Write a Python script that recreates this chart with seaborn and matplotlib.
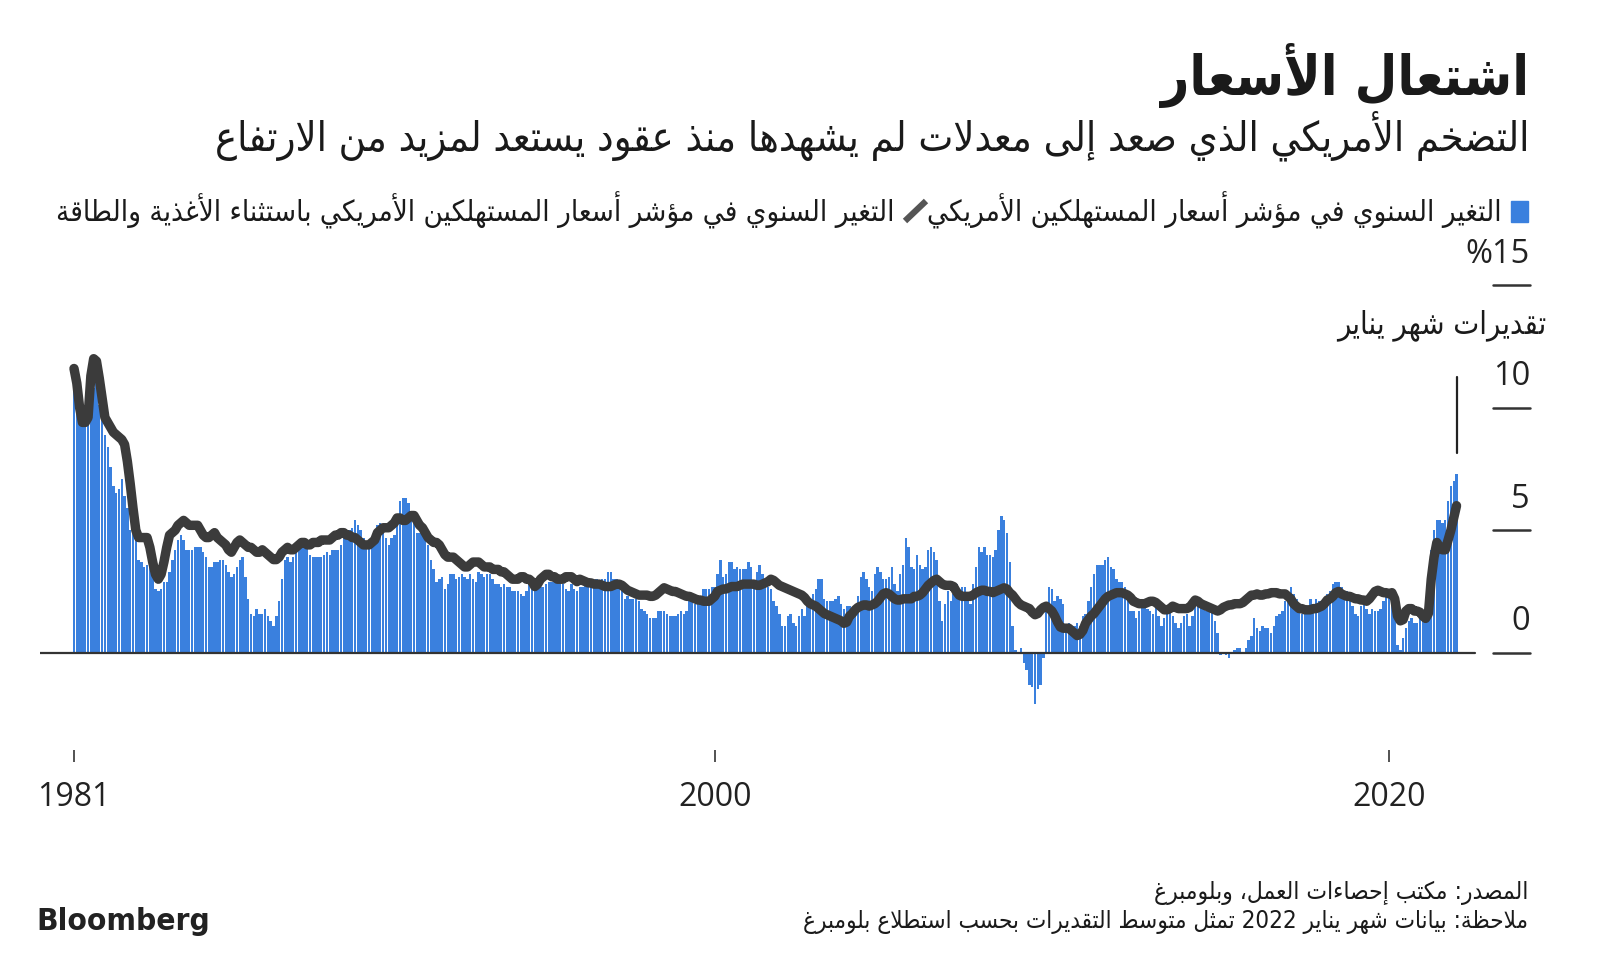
import re
import numpy as np
import pandas as pd
import matplotlib
matplotlib.use("Agg")
import matplotlib.pyplot as plt
import matplotlib.transforms as mtransforms
from matplotlib.font_manager import FontProperties, fontManager
from matplotlib.lines import Line2D
from matplotlib.patches import Rectangle
import seaborn as sns

# ------------------------------------------------------------------ data
start_year = 1981  # first month: January 1981, last: January 2022 (estimate)

# US CPI, year-over-year change (%), monthly
cpi_yoy = [
    11.8, 11.4, 10.5, 10.0, 9.8, 9.6, 10.8, 10.8, 11.0, 10.1, 9.6, 8.9,   # 1981
    8.4, 7.6, 6.8, 6.5, 6.7, 7.1, 6.4, 5.9, 5.0, 5.1, 4.6, 3.8,           # 1982
    3.7, 3.5, 3.6, 3.9, 3.5, 2.6, 2.5, 2.6, 2.9, 2.9, 3.3, 3.8,           # 1983
    4.2, 4.6, 4.8, 4.6, 4.2, 4.2, 4.2, 4.3, 4.3, 4.3, 4.1, 3.9,           # 1984
    3.5, 3.5, 3.7, 3.7, 3.8, 3.8, 3.6, 3.3, 3.1, 3.2, 3.5, 3.8,           # 1985
    3.9, 3.1, 2.2, 1.6, 1.5, 1.8, 1.6, 1.6, 1.8, 1.5, 1.3, 1.1,           # 1986
    1.5, 2.1, 3.0, 3.8, 3.9, 3.7, 3.9, 4.3, 4.4, 4.5, 4.5, 4.4,           # 1987
    4.0, 3.9, 3.9, 3.9, 3.9, 4.0, 4.1, 4.0, 4.2, 4.2, 4.2, 4.4,           # 1988
    4.7, 4.8, 5.0, 5.1, 5.4, 5.2, 5.0, 4.7, 4.3, 4.5, 4.7, 4.6,           # 1989
    5.2, 5.3, 5.2, 4.7, 4.4, 4.7, 4.8, 5.6, 6.2, 6.3, 6.3, 6.1,           # 1990
    5.7, 5.3, 4.9, 4.9, 5.0, 4.7, 4.4, 3.8, 3.4, 2.9, 3.0, 3.1,           # 1991
    2.6, 2.8, 3.2, 3.2, 3.0, 3.1, 3.2, 3.1, 3.0, 3.2, 3.0, 2.9,           # 1992
    3.3, 3.2, 3.1, 3.2, 3.2, 3.0, 2.8, 2.8, 2.7, 2.8, 2.7, 2.7,           # 1993
    2.5, 2.5, 2.5, 2.4, 2.3, 2.5, 2.8, 2.9, 3.0, 2.6, 2.7, 2.7,           # 1994
    2.8, 2.9, 2.9, 3.1, 3.2, 3.0, 2.8, 2.6, 2.5, 2.8, 2.6, 2.5,           # 1995
    2.7, 2.7, 2.8, 2.9, 2.9, 2.8, 3.0, 2.9, 3.0, 3.0, 3.3, 3.3,           # 1996
    3.0, 3.0, 2.8, 2.5, 2.2, 2.3, 2.2, 2.2, 2.2, 2.1, 1.8, 1.7,           # 1997
    1.6, 1.4, 1.4, 1.4, 1.7, 1.7, 1.7, 1.6, 1.5, 1.5, 1.5, 1.6,           # 1998
    1.7, 1.6, 1.7, 2.3, 2.1, 2.0, 2.1, 2.3, 2.6, 2.6, 2.6, 2.7,           # 1999
    2.7, 3.2, 3.8, 3.1, 3.2, 3.7, 3.7, 3.4, 3.5, 3.4, 3.4, 3.4,           # 2000
    3.7, 3.5, 2.9, 3.3, 3.6, 3.2, 2.7, 2.7, 2.6, 2.1, 1.9, 1.6,           # 2001
    1.1, 1.1, 1.5, 1.6, 1.2, 1.1, 1.5, 1.8, 1.5, 2.0, 2.2, 2.4,           # 2002
    2.6, 3.0, 3.0, 2.2, 2.1, 2.1, 2.1, 2.2, 2.3, 2.0, 1.8, 1.9,           # 2003
    1.9, 1.7, 1.7, 2.3, 3.1, 3.3, 3.0, 2.7, 2.5, 3.2, 3.5, 3.3,           # 2004
    3.0, 3.0, 3.1, 3.5, 2.8, 2.5, 3.2, 3.6, 4.7, 4.3, 3.5, 3.4,           # 2005
    4.0, 3.6, 3.4, 3.5, 4.2, 4.3, 4.1, 3.8, 2.1, 1.3, 2.0, 2.5,           # 2006
    2.1, 2.4, 2.8, 2.6, 2.7, 2.7, 2.4, 2.0, 2.8, 3.5, 4.3, 4.1,           # 2007
    4.3, 4.0, 4.0, 3.9, 4.2, 5.0, 5.6, 5.4, 4.9, 3.7, 1.1, 0.1,           # 2008
    0.0, 0.2, -0.4, -0.7, -1.3, -1.4, -2.1, -1.5, -1.3, -0.2, 1.8, 2.7,   # 2009
    2.6, 2.1, 2.3, 2.2, 2.0, 1.1, 1.2, 1.1, 1.1, 1.2, 1.1, 1.5,           # 2010
    1.6, 2.1, 2.7, 3.2, 3.6, 3.6, 3.6, 3.8, 3.9, 3.5, 3.4, 3.0,           # 2011
    2.9, 2.9, 2.7, 2.3, 1.7, 1.7, 1.4, 1.7, 2.0, 2.2, 1.8, 1.7,           # 2012
    1.6, 2.0, 1.5, 1.1, 1.4, 1.8, 2.0, 1.5, 1.2, 1.0, 1.2, 1.5,           # 2013
    1.6, 1.1, 1.5, 2.0, 2.1, 2.1, 2.0, 1.7, 1.7, 1.7, 1.3, 0.8,           # 2014
    -0.1, 0.0, -0.1, -0.2, 0.0, 0.1, 0.2, 0.2, 0.0, 0.2, 0.5, 0.7,        # 2015
    1.4, 1.0, 0.9, 1.1, 1.0, 1.0, 0.8, 1.1, 1.5, 1.6, 1.7, 2.1,           # 2016
    2.5, 2.7, 2.4, 2.2, 1.9, 1.6, 1.7, 1.9, 2.2, 2.0, 2.2, 2.1,           # 2017
    2.1, 2.2, 2.4, 2.5, 2.8, 2.9, 2.9, 2.7, 2.3, 2.5, 2.2, 1.9,           # 2018
    1.6, 1.5, 1.9, 2.0, 1.8, 1.6, 1.8, 1.7, 1.7, 1.8, 2.1, 2.3,           # 2019
    2.5, 2.3, 1.5, 0.3, 0.1, 0.6, 1.0, 1.3, 1.4, 1.2, 1.2, 1.4,           # 2020
    1.4, 1.7, 2.6, 4.2, 5.0, 5.4, 5.4, 5.3, 5.4, 6.2, 6.8, 7.0,           # 2021
    7.3,                                                                  # 2022 Jan (est.)
]

# US CPI excluding food and energy, year-over-year change (%), monthly
core_yoy = [
    11.6, 11.0, 10.0, 9.4, 9.4, 9.6, 11.3, 12.0, 11.9, 11.2, 10.4, 9.6,   # 1981
    9.4, 9.2, 9.0, 8.9, 8.8, 8.7, 8.5, 7.8, 6.9, 5.9, 5.0, 4.7,           # 1982
    4.7, 4.7, 4.7, 4.3, 3.7, 3.2, 3.0, 3.2, 3.7, 4.3, 4.8, 4.9,           # 1983
    5.0, 5.2, 5.3, 5.4, 5.3, 5.2, 5.2, 5.2, 5.2, 5.0, 4.8, 4.7,           # 1984
    4.7, 4.8, 4.9, 4.7, 4.6, 4.5, 4.4, 4.2, 4.1, 4.3, 4.5, 4.6,           # 1985
    4.5, 4.4, 4.3, 4.3, 4.2, 4.1, 4.1, 4.2, 4.1, 4.0, 3.9, 3.8,           # 1986
    3.8, 3.9, 4.1, 4.2, 4.3, 4.2, 4.2, 4.3, 4.4, 4.5, 4.5, 4.4,           # 1987
    4.4, 4.5, 4.5, 4.5, 4.6, 4.6, 4.6, 4.6, 4.7, 4.8, 4.8, 4.9,           # 1988
    4.9, 4.8, 4.8, 4.7, 4.7, 4.6, 4.5, 4.4, 4.4, 4.4, 4.5, 4.6,           # 1989
    4.9, 5.0, 5.1, 5.1, 5.1, 5.2, 5.3, 5.5, 5.5, 5.4, 5.4, 5.5,           # 1990
    5.6, 5.6, 5.4, 5.2, 5.1, 4.9, 4.7, 4.6, 4.5, 4.5, 4.4, 4.2,           # 1991
    4.0, 3.9, 3.9, 3.9, 3.8, 3.7, 3.6, 3.5, 3.5, 3.6, 3.7, 3.7,           # 1992
    3.7, 3.6, 3.5, 3.5, 3.5, 3.4, 3.4, 3.4, 3.3, 3.3, 3.2, 3.1,           # 1993
    3.0, 3.0, 3.0, 3.1, 3.1, 3.0, 3.0, 2.9, 2.7, 2.8, 3.0, 3.1,           # 1994
    3.2, 3.2, 3.1, 3.1, 3.0, 3.0, 3.0, 3.1, 3.1, 3.1, 3.0, 2.9,           # 1995
    3.0, 2.95, 2.9, 2.85, 2.85, 2.8, 2.8, 2.8, 2.75, 2.7, 2.7, 2.7,       # 1996
    2.75, 2.8, 2.8, 2.75, 2.65, 2.55, 2.5, 2.45, 2.4, 2.35, 2.35, 2.35,   # 1997
    2.35, 2.3, 2.3, 2.35, 2.45, 2.55, 2.65, 2.6, 2.55, 2.5, 2.5, 2.45,    # 1998
    2.4, 2.35, 2.3, 2.3, 2.25, 2.2, 2.15, 2.15, 2.1, 2.1, 2.1, 2.2,       # 1999
    2.3, 2.5, 2.55, 2.6, 2.6, 2.65, 2.7, 2.7, 2.7, 2.75, 2.8, 2.8,        # 2000
    2.8, 2.8, 2.8, 2.75, 2.75, 2.8, 2.85, 2.9, 3.0, 2.95, 2.85, 2.75,     # 2001
    2.7, 2.65, 2.6, 2.55, 2.5, 2.45, 2.4, 2.35, 2.25, 2.1, 2.0, 1.95,     # 2002
    1.9, 1.8, 1.7, 1.6, 1.55, 1.5, 1.45, 1.4, 1.35, 1.3, 1.2, 1.25,       # 2003
    1.5, 1.6, 1.75, 1.85, 1.9, 1.95, 1.95, 1.9, 1.95, 2.0, 2.1, 2.25,     # 2004
    2.4, 2.45, 2.4, 2.3, 2.2, 2.15, 2.15, 2.2, 2.2, 2.2, 2.2, 2.3,        # 2005
    2.3, 2.35, 2.45, 2.6, 2.75, 2.85, 2.95, 3.0, 2.9, 2.8, 2.75, 2.75,    # 2006
    2.75, 2.7, 2.5, 2.35, 2.3, 2.3, 2.3, 2.3, 2.35, 2.45, 2.5, 2.55,      # 2007
    2.55, 2.5, 2.5, 2.45, 2.5, 2.55, 2.6, 2.65, 2.6, 2.45, 2.35, 2.2,     # 2008
    2.05, 1.95, 1.9, 1.85, 1.8, 1.65, 1.55, 1.6, 1.75, 1.85, 1.9, 1.8,    # 2009
    1.7, 1.5, 1.25, 1.05, 1.0, 1.0, 1.0, 0.9, 0.8, 0.7, 0.75, 0.9,        # 2010
    1.2, 1.35, 1.5, 1.6, 1.75, 1.9, 2.05, 2.2, 2.3, 2.35, 2.4, 2.45,      # 2011
    2.45, 2.45, 2.4, 2.35, 2.25, 2.1, 2.05, 2.0, 2.0, 2.0, 2.05, 2.1,     # 2012
    2.1, 2.05, 1.95, 1.85, 1.75, 1.75, 1.8, 1.9, 1.85, 1.8, 1.8, 1.8,     # 2013
    1.8, 1.85, 2.0, 2.15, 2.1, 2.0, 1.95, 1.9, 1.85, 1.8, 1.75, 1.7,      # 2014
    1.75, 1.85, 1.9, 1.95, 1.95, 2.0, 2.0, 2.0, 2.05, 2.15, 2.25, 2.35,   # 2015
    2.35, 2.4, 2.35, 2.35, 2.4, 2.4, 2.45, 2.45, 2.45, 2.4, 2.4, 2.4,     # 2016
    2.3, 2.2, 2.0, 1.9, 1.8, 1.8, 1.75, 1.75, 1.75, 1.8, 1.8, 1.85,       # 2017
    1.9, 2.0, 2.15, 2.2, 2.3, 2.45, 2.5, 2.4, 2.35, 2.3, 2.3, 2.25,       # 2018
    2.2, 2.2, 2.15, 2.15, 2.1, 2.2, 2.35, 2.5, 2.55, 2.5, 2.45, 2.45,     # 2019
    2.4, 2.45, 2.2, 1.5, 1.3, 1.35, 1.7, 1.8, 1.8, 1.7, 1.7, 1.65,        # 2020
    1.5, 1.4, 1.6, 3.0, 3.9, 4.5, 4.3, 4.2, 4.2, 4.6, 5.0, 5.5,           # 2021
    6.0,                                                                  # 2022 Jan (est.)
]

x_tick_years = [1981, 2000, 2020]
x_tick_labels = ["1981", "2000", "2020"]
y_tick_values = [0, 5, 10, 15]
y_tick_labels = ["0", "5", "10", "%15"]

title = "اشتعال الأسعار"
subtitle = "التضخم الأمريكي الذي صعد إلى معدلات لم يشهدها منذ عقود يستعد لمزيد من الارتفاع"
legend_cpi = "التغير السنوي في مؤشر أسعار المستهلكين الأمريكي"
legend_core = "التغير السنوي في مؤشر أسعار المستهلكين الأمريكي باستثناء الأغذية والطاقة"
annotation = "تقديرات شهر يناير"
source_line = "المصدر: مكتب إحصاءات العمل، وبلومبرغ"
note_line = "ملاحظة: بيانات شهر يناير 2022 تمثل متوسط التقديرات بحسب استطلاع بلومبرغ"
brand = "Bloomberg"

assert len(cpi_yoy) == len(core_yoy) == 41 * 12 + 1

# ------------------------------------------------------- Arabic shaping
_FORMS = [("ء", 0xFE80, 1), ("آ", 0xFE81, 2), ("أ", 0xFE83, 2), ("ؤ", 0xFE85, 2),
          ("إ", 0xFE87, 2), ("ئ", 0xFE89, 4), ("ا", 0xFE8D, 2), ("ب", 0xFE8F, 4),
          ("ة", 0xFE93, 2), ("ت", 0xFE95, 4), ("ث", 0xFE99, 4), ("ج", 0xFE9D, 4),
          ("ح", 0xFEA1, 4), ("خ", 0xFEA5, 4), ("د", 0xFEA9, 2), ("ذ", 0xFEAB, 2),
          ("ر", 0xFEAD, 2), ("ز", 0xFEAF, 2), ("س", 0xFEB1, 4), ("ش", 0xFEB5, 4),
          ("ص", 0xFEB9, 4), ("ض", 0xFEBD, 4), ("ط", 0xFEC1, 4), ("ظ", 0xFEC5, 4),
          ("ع", 0xFEC9, 4), ("غ", 0xFECD, 4), ("ف", 0xFED1, 4), ("ق", 0xFED5, 4),
          ("ك", 0xFED9, 4), ("ل", 0xFEDD, 4), ("م", 0xFEE1, 4), ("ن", 0xFEE5, 4),
          ("ه", 0xFEE9, 4), ("و", 0xFEED, 2), ("ى", 0xFEEF, 2), ("ي", 0xFEF1, 4)]
AR = {c: (b, n) for c, b, n in _FORMS}
LAM_ALEF = {"آ": 0xFEF5, "أ": 0xFEF7, "إ": 0xFEF9, "ا": 0xFEFB}


def _dual(ch):
    return ch in AR and AR[ch][1] == 4


def shape(text):
    out, i, n = [], 0, len(text)
    while i < n:
        ch = text[i]
        prev = text[i - 1] if i > 0 else ""
        jp = _dual(prev) and ch in AR
        if ch == "ل" and i + 1 < n and text[i + 1] in LAM_ALEF:
            out.append(chr(LAM_ALEF[text[i + 1]] + (1 if jp else 0)))
            i += 2
            continue
        if ch in AR:
            base, nf = AR[ch]
            nxt = text[i + 1] if i + 1 < n else ""
            jn = nf == 4 and nxt in AR
            if nf == 1:
                code = base
            elif jp and jn:
                code = base + 3
            elif jp:
                code = base + 1
            elif jn:
                code = base + 2
            else:
                code = base
            out.append(chr(code))
        else:
            out.append(ch)
        i += 1
    return "".join(out)


def ar(text):
    s = shape(text)
    runs = re.findall(r"[0-9A-Za-z%]+|[^0-9A-Za-z%]+", s)
    return "".join(r if re.match(r"[0-9A-Za-z%]", r) else r[::-1] for r in reversed(runs))


# ------------------------------------------------------------ styling
sns.set_style("white")
names = {f.name for f in fontManager.ttflist}
has_cond = any(f.name == "DejaVu Sans" and "condensed" in str(f.stretch).lower() for f in fontManager.ttflist)
AR_STRETCH = "condensed" if has_cond else "normal"
NUM_FAMILY = "Open Sans" if "Open Sans" in names else "DejaVu Sans"
plt.rcParams["font.family"] = ["DejaVu Sans"]

W, H = 1600, 957
TXT = "#1a1a1a"
BLUE = "#3a80de"
LINE = "#3b3b3b"

fig = plt.figure(figsize=(W / 100, H / 100), dpi=100)
fig.patch.set_facecolor("white")
renderer = fig.canvas.get_renderer()


def fig_text(x_px, y_px, s, target_w, ha="right", weight="normal", stretch=AR_STRETCH,
             family="DejaVu Sans", color=TXT):
    t = fig.text(x_px / W, 1 - y_px / H, s, ha=ha, va="center", color=color,
                 fontproperties=FontProperties(family=family, weight=weight, stretch=stretch, size=10))
    w = t.get_window_extent(renderer=renderer).width
    t.set_fontsize(10 * target_w / w)
    return t


# plot frame: left 40px, right 1530px, top 270px, bottom 750px
ax_left, ax_right, ax_top, ax_bottom = 40, 1530, 270, 750
ax = fig.add_axes([ax_left / W, 1 - ax_bottom / H, (ax_right - ax_left) / W, (ax_bottom - ax_top) / H])

zero_px, px_per_unit = 652.7, 24.5
first_px, px_per_month = 74, 2.81
ax.set_ylim(-(ax_bottom - zero_px) / px_per_unit, (zero_px - ax_top) / px_per_unit)
xlim = ((ax_left - first_px) / px_per_month, (ax_right - first_px) / px_per_month)

df = pd.DataFrame({
    "month": np.arange(len(cpi_yoy)),
    "cpi": cpi_yoy,
    "core": core_yoy,
})

sns.barplot(data=df, x="month", y="cpi", native_scale=True, color=BLUE, saturation=1,
            width=0.86, errorbar=None, linewidth=0, ax=ax, zorder=2)
sns.lineplot(data=df, x="month", y="core", color=LINE, linewidth=6.8, ax=ax, zorder=4,
             solid_capstyle="round", solid_joinstyle="round")
ax.set_xlim(*xlim)

for s in ax.spines.values():
    s.set_visible(False)
ax.set_xlabel("")
ax.set_ylabel("")
ax.grid(False)

# baseline
ax.axhline(0, xmin=0, xmax=(1475 - ax_left) / (ax_right - ax_left), color="#333333", lw=1.6, zorder=3)

# x ticks
ax.set_xticks([(y - start_year) * 12 for y in x_tick_years])
ax.set_xticklabels(x_tick_labels, fontsize=23, color="#222222", family=NUM_FAMILY)
ax.tick_params(axis="x", which="both", bottom=True, length=8.5, width=1.3, color="#444444",
               direction="out", pad=14)
ax.set_yticks([])

# y "ticks": short dashes with labels above them
ytrans = mtransforms.blended_transform_factory(ax.transAxes, ax.transData)
dash_x0 = (1493 - ax_left) / (ax_right - ax_left)
for v, lab in zip(y_tick_values, y_tick_labels):
    ax.plot([dash_x0, 1.0], [v, v], transform=ytrans, color="#333333", lw=1.8, clip_on=False)
    ax.text(1.0, v + 1.27, lab, transform=ytrans, ha="right", va="center", fontsize=23.5,
            color="#222222", family=NUM_FAMILY)

# January estimate marker
ax.plot([len(cpi_yoy) - 1] * 2, [(zero_px - 453) / px_per_unit, (zero_px - 377) / px_per_unit],
        color="#222222", lw=1.6, zorder=5)
fig_text(1546, 325, ar(annotation), 208)

# titles
fig_text(1529, 76, ar(title), 368, weight="bold")
fig_text(1529, 136, ar(subtitle), 1310)

# legend
fig.patches.append(Rectangle((1511 / W, 1 - 222 / H), 17 / W, 21 / H, transform=fig.transFigure,
                             color=BLUE, zorder=3))
fig_text(1502, 210, ar(legend_cpi), 572)
fig.lines.append(Line2D([905 / W, 926 / W], [1 - 221 / H, 1 - 201 / H], transform=fig.transFigure,
                        color="#555555", lw=4.5, solid_capstyle="butt"))
fig_text(894, 210, ar(legend_core), 836)

# footer
fig_text(1528, 893, ar(source_line), 375)
fig_text(1528, 922, ar(note_line), 727)
fig_text(36, 922, brand, 172, ha="left", weight="heavy", color="#222222",
         family="DejaVu Sans", stretch="condensed" if has_cond else "normal")

fig.savefig("out.png", dpi=100, facecolor="white")
